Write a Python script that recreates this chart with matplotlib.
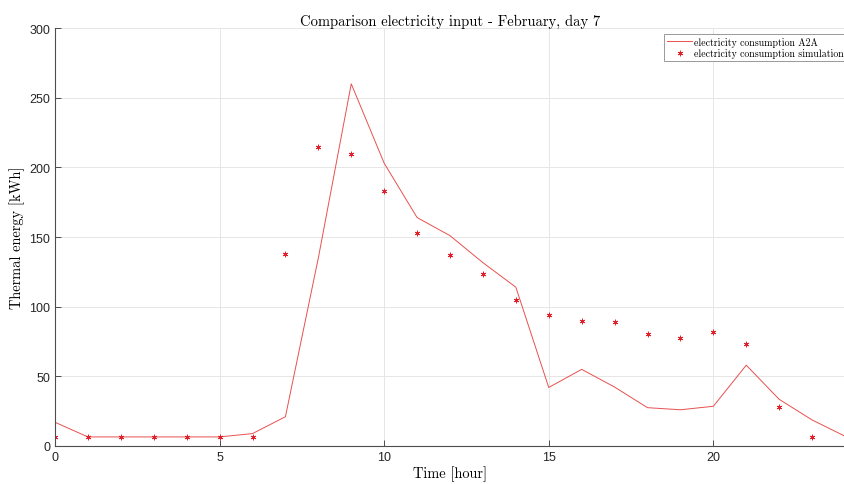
import matplotlib
matplotlib.use("Agg")
import matplotlib.pyplot as plt

# Hourly electricity data for February, day 7
hours_a2a = list(range(0, 25))
consumption_a2a = [17, 6.5, 6.5, 6.5, 6.5, 6.5, 8.9, 21, 135, 260, 203, 164,
                   151, 131.6, 114, 42, 55, 42.3, 27.5, 26, 28.5, 58, 33.5, 18.7, 7]

hours_sim = list(range(0, 24))
consumption_sim = [6.5, 6.5, 6.5, 6.5, 6.5, 6.5, 6.5, 138, 214.6, 209.3, 183, 152.9,
                   137.1, 123.7, 104.5, 94.3, 90, 88.8, 80.1, 77.8, 82.1, 73.4, 28.2, 6.5]

x_ticks = [0, 5, 10, 15, 20]
y_ticks = [0, 50, 100, 150, 200, 250, 300]

serif = "cmr10"
tick_font = "Liberation Sans"
line_red = "#e8504e"
mark_red = "#e0202a"

fig = plt.figure(figsize=(8.45, 4.85), dpi=100)
ax = fig.add_axes([0.0651, 0.0784, 0.9349, 0.8616])

ax.plot(hours_a2a, consumption_a2a, color=line_red, linewidth=0.7,
        label="electricity consumption A2A")
# asterisk marker: six-armed star made of strokes
ax.plot(hours_sim, consumption_sim, linestyle="none", marker=(6, 2, 0), markersize=4,
        color=mark_red, markeredgewidth=0.6, label="electricity consumption simulation")

ax.set_xlim(0, 24)
ax.set_ylim(0, 300)
ax.set_xticks(x_ticks)
ax.set_yticks(y_ticks)
ax.grid(True, color="#e6e6e6", linewidth=0.7)
ax.set_axisbelow(True)

for side in ("top", "right"):
    ax.spines[side].set_visible(False)
for side in ("left", "bottom"):
    ax.spines[side].set_color("#4d4d4d")
    ax.spines[side].set_linewidth(0.8)

ax.tick_params(direction="in", length=4, width=0.7, color="#4d4d4d",
               labelsize=9, labelcolor="#262626")
for lbl in ax.get_xticklabels() + ax.get_yticklabels():
    lbl.set_fontfamily(tick_font)

ax.set_title("Comparison electricity input - February, day 7",
             fontfamily=serif, fontsize=10.5, pad=2.5)
ax.set_xlabel("Time [hour]", fontfamily=serif, fontsize=10.4, labelpad=2)
ax.set_ylabel("Thermal energy [kWh]", fontfamily=serif, fontsize=10.4, labelpad=3)

leg = ax.legend(loc="upper right", bbox_to_anchor=(1.0015, 0.9856),
                prop={"family": serif, "size": 7.1}, fancybox=False,
                framealpha=1, edgecolor="#999999", handlelength=2.6,
                borderpad=0.25, labelspacing=0.15, handletextpad=0.15,
                borderaxespad=0.0)
leg.get_frame().set_linewidth(0.7)

fig.savefig("out.png", dpi=100)
